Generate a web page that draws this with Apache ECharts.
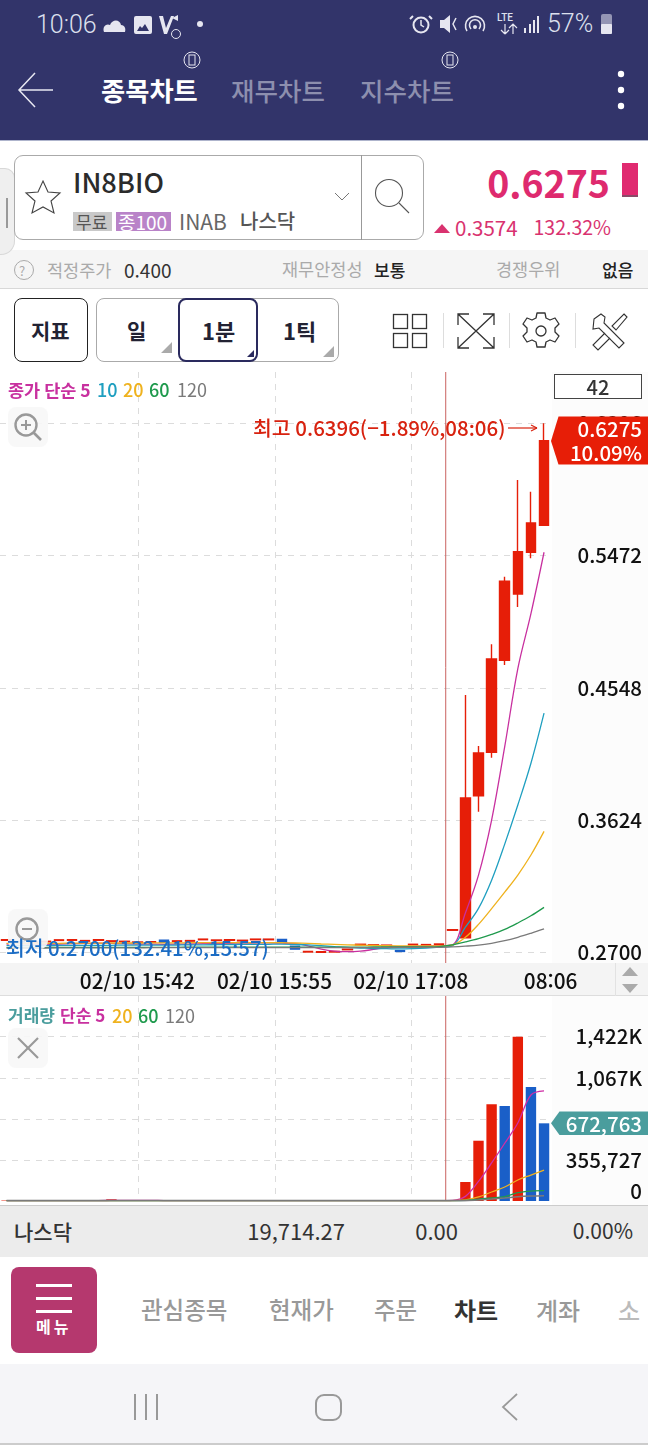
<!DOCTYPE html>
<html lang="ko"><head><meta charset="utf-8">
<script src="https://cdn.jsdelivr.net/npm/echarts@6/dist/echarts.min.js"></script>
<style>
html,body{margin:0;padding:0;width:648px;height:1445px;overflow:hidden;background:#fff;font-family:"Noto Sans CJK KR","Noto Sans",sans-serif}
#chrome,#chrome svg{position:absolute;left:0;top:0;width:648px;height:1445px}
#chrome span{position:absolute;white-space:nowrap;line-height:1;transform:translateY(-50%)}
#chrome .b{position:absolute;box-sizing:border-box}
#chart{position:absolute;left:0;top:370px;width:648px;height:835px}
</style></head><body>
<div id="chrome"></div>
<div id="chart"></div>
<script>
// ---- chart data ----
const barCount = '42';
const slots = ['1','2','3','4','5','6','7','8','9','10','11','12','13','14','15','16','17','18','19','20','21','22','23','24','25','26','27','28','29','30','31','32','33','34','35','36','37','38','39','40','41','42'];
const opens  = [.2784,.2776,.2768,.2773,.2783,.2784,.2778,.2784,.2776,.2773,.2768,.2770,.2785,.2776,.2778,.2788,.2782,.2784,.2780,.2788,.2788,.2790,.2742,.2702,.2700,.2702,.2718,.2752,.2748,.2746,.2712,.2752,.2750,.2754,.2854,.2802,.3794,.4097,.4740,.5203,.5495,.5683];
const closes = [.2788,.2772,.2772,.2777,.2787,.2788,.2782,.2788,.2780,.2777,.2772,.2774,.2770,.2780,.2782,.2792,.2786,.2788,.2784,.2792,.2792,.2770,.2722,.2706,.2704,.2706,.2722,.2756,.2752,.2750,.2706,.2756,.2754,.2758,.2858,.3778,.4092,.4749,.5292,.5499,.5699,.6275];
const lows   = [.2784,.2772,.2768,.2773,.2783,.2784,.2778,.2784,.2776,.2773,.2768,.2770,.2770,.2776,.2778,.2788,.2782,.2784,.2780,.2788,.2788,.2770,.2722,.2702,.2700,.2702,.2718,.2752,.2748,.2746,.2706,.2752,.2750,.2754,.2854,.2802,.3682,.4060,.4707,.5113,.5453,.5683];
const highs  = [.2788,.2776,.2772,.2777,.2787,.2788,.2782,.2788,.2780,.2777,.2772,.2774,.2785,.2780,.2782,.2792,.2786,.2788,.2784,.2792,.2792,.2790,.2742,.2706,.2704,.2706,.2722,.2756,.2752,.2750,.2712,.2756,.2754,.2758,.2858,.4498,.4141,.4852,.5324,.6000,.5918,.6396];
const priceMa5   = [.2758,.2760,.2758,.2756,.2758,.2760,.2762,.2764,.2762,.2760,.2758,.2757,.2756,.2757,.2758,.2760,.2762,.2763,.2764,.2765,.2766,.2764,.2760,.2745,.2722,.2708,.2704,.2708,.2720,.2733,.2738,.2742,.2744,.2746,.2752,.2975,.3239,.3624,.4137,.4682,.5066,.5495];
const priceMa10  = [.2746,.2746,.2747,.2747,.2748,.2748,.2748,.2749,.2749,.2750,.2750,.2750,.2750,.2751,.2752,.2752,.2753,.2754,.2755,.2755,.2756,.2757,.2755,.2752,.2746,.2740,.2734,.2730,.2726,.2725,.2724,.2726,.2730,.2736,.2745,.2875,.3007,.3204,.3456,.3729,.4021,.4371];
const priceMa20  = [.2762,.2762,.2763,.2763,.2763,.2764,.2764,.2764,.2765,.2765,.2765,.2766,.2766,.2766,.2767,.2767,.2767,.2768,.2768,.2768,.2768,.2767,.2765,.2762,.2758,.2755,.2752,.2750,.2748,.2746,.2745,.2745,.2744,.2744,.2751,.2805,.2895,.3005,.3120,.3240,.3380,.3545];
const priceMa60  = [.2733,.2733,.2733,.2733,.2734,.2734,.2734,.2734,.2734,.2735,.2735,.2735,.2735,.2735,.2736,.2736,.2736,.2736,.2736,.2736,.2736,.2736,.2736,.2736,.2736,.2736,.2736,.2736,.2737,.2737,.2737,.2737,.2738,.2740,.2752,.2772,.2795,.2825,.2860,.2905,.2955,.3014];
const priceMa120 = [.2730,.2730,.2730,.2730,.2731,.2731,.2731,.2731,.2731,.2731,.2731,.2732,.2732,.2732,.2732,.2732,.2732,.2732,.2732,.2733,.2733,.2733,.2733,.2733,.2733,.2733,.2733,.2733,.2733,.2733,.2734,.2734,.2734,.2735,.2738,.2743,.2750,.2763,.2781,.2805,.2833,.2863];
const volumes = [4000,3000,2500,3000,3500,3000,2500,4000,15000,4000,3000,2500,3000,2500,3000,2500,2000,2500,3000,2500,3000,3500,3000,2500,2000,2000,2500,2000,2500,2000,2500,2000,2000,2500,4000,164500,522000,837000,823000,1422000,987000,672763];
const volMa5   = [3000,3000,3000,3000,3000,3000,3000,3000,5500,6000,6000,6000,3500,3000,3000,3000,3000,3000,3000,3000,3000,3000,3000,3000,3000,2500,2500,2500,2500,2500,2500,2500,2500,2500,5000,40000,170000,330000,500000,675000,918000,953000];
const volMa20  = [3000,3000,3000,3000,3000,3000,3000,3000,3500,3500,3500,3500,3500,3500,3500,3500,3500,3500,3500,3500,3000,3000,3000,3000,3000,3000,3000,3000,3000,3000,3000,3000,3000,3000,3000,10000,35000,78000,121000,182000,225000,268000];
const volMa60  = [3000,3000,3000,3000,3000,3000,3000,3000,3000,3000,3000,3000,3000,3000,3000,3000,3000,3000,3000,3000,3000,3000,3000,3000,3000,3000,3000,3000,3000,3000,3000,3000,3000,3000,3000,5000,17000,26000,37000,72000,86000,89000];
const volMa120 = [3000,3000,3000,3000,3000,3000,3000,3000,3000,3000,3000,3000,3000,3000,3000,3000,3000,3000,3000,3000,3000,3000,3000,3000,3000,3000,3000,3000,3000,3000,3000,3000,3000,3000,3000,3000,9000,17000,26000,37000,43000,46000];
const priceTicks = [0.2700,0.3624,0.4548,0.5472,0.6396];
const volumeGridTicks = [355727,711454,1067181,1422908];
const volumeLabelTicks = [0,355727,1067181,1422908];
const dividerSlots = [10.06,20.48,30.87];
const timeSlots = [9.98,20.44,30.83,41.5];
const timeLabels = ['02/10 15:42','02/10 15:55','02/10 17:08','08:06'];
const sessionBreakSlot = 33.5;
const PRICE_MIN = 0.26252, PRICE_MAX = 0.67544, VOL_MAX = 1775400;
const RED='#e61e08', BLUE='#1a5fc8', MAG='#c8309f', CYAN='#1f9fc0', YEL='#efb21e', GRN='#1f9a4d', GRY='#7a7a7a', TEAL='#4a9d9d';
const FONT='"Noto Sans CJK KR","Noto Sans",sans-serif';

// ---- phone screen around the chart ----
const chrome=document.getElementById('chrome');
function box(x,y,w,h,css){const d=document.createElement('div');d.className='b';d.style.cssText=`left:${x}px;top:${y}px;width:${w}px;height:${h}px;`+(css||'');chrome.appendChild(d);}
function t(x,y,s,size,color,weight,right,fam,extra){const e=document.createElement('span');e.textContent=s;
 e.style.cssText=(right?`right:${648-x}px;`:`left:${x}px;`)+`top:${y}px;font-size:${size}px;color:${color};font-weight:${weight||400};`+(fam?`font-family:${fam};`:'')+(extra||'');chrome.appendChild(e);}
box(0,0,648,140,'background:#32346a');
box(0,140,648,1,'background:#aeb4cc');
box(0,250,648,38,'background:#f5f5f5');
box(0,288,648,1,'background:#d8d8d8');
box(0,370,648,835,'background:#fff');
box(552,372,96,591,'background:#fcfcfc');
box(552,996,96,209,'background:#fcfcfc');
box(0,963,648,33,'background:#f4f4f4;border-bottom:1px solid #ddd');
box(615,963,1,33,'background:#e2e2e2');
box(0,1205,648,52,'background:#ececec;border-top:1px solid #ccc');
box(0,1364,648,81,'background:#f5f5f8;border-bottom:2px solid #ccc');
box(0,168,15,87,'background:#efefef;border:1px solid #d8d8d8;border-left:0;border-radius:0 10px 14px 0');
box(6,198,1.5,30,'background:#999');
box(14,155,410,85,'background:#fff;border:1px solid #aaa;border-radius:9px');
box(361,155,1,85,'background:#999');
box(73,212,39,19,'background:#c9c9c9');
box(116,212,55,19,'background:#b983c8');
box(14,298,74,64,'border:1.6px solid #222;border-radius:8px');
box(96,298,243,64,'border:1px solid #aaa;border-radius:8px');
box(178,298,80,64,'border:2px solid #2a2a5e;border-radius:8px;background:#fff');
box(622,163,16,34,'background:#e02a70;border-bottom:2px solid #8a4a68');
box(554,374,88,25,'border:1px solid #444;background:#fff');
box(11,1267,86,86,'background:#b5386e;border-radius:8px');
box(36,1284,36,3,'background:#fff');box(36,1297,36,3,'background:#fff');box(36,1310,36,3,'background:#fff');
chrome.insertAdjacentHTML('beforeend',`<svg viewBox="0 0 648 1445" fill="none">
 <path d="M53 90H19M35 73L19 90L35 107" stroke="#e8e8f2" stroke-width="1.5"/>
 <circle cx="621" cy="74" r="3.2" fill="#fff"/><circle cx="621" cy="90" r="3.2" fill="#fff"/><circle cx="621" cy="106" r="3.2" fill="#fff"/>
 <g fill="#e6e6f0">
  <path d="M104 32c-2-6 3-9 6-7 2-6 10-6 11 0 4 0 5 4 4 7z"/>
  <path d="M134 18a2 2 0 0 1 2-2h14a2 2 0 0 1 2 2v14a2 2 0 0 1-2 2h-14a2 2 0 0 1-2-2zM137 31h12l-4-7-3 4-2-2z" fill-rule="evenodd"/>
  <path d="M159 16h4l3 12 5-12h3l-7 18h-3z"/><path d="M172 18l6-3v6z"/><circle cx="200" cy="24" r="3"/>
  <path d="M440 20h4l6-5v18l-6-5h-4z"/>
  <rect x="524" y="28" width="2" height="5"/><rect x="529" y="24" width="2" height="9"/><rect x="533" y="20" width="2" height="13"/><rect x="537" y="16" width="2" height="17"/>
  <rect x="601" y="14" width="11" height="20" rx="2" opacity=".55"/><rect x="601" y="24" width="11" height="10" rx="1"/></g>
 <g stroke="#e6e6f0" stroke-width="2"><circle cx="421" cy="25" r="7.500"/><path d="M421 20v5l3 2" stroke-width="1.500"/><path d="M413 16l-3 3M429 16l3 3"/><path d="M456 18l-3 6 3 6" stroke-width="1.500"/></g>
 <path d="M467 31a9.500 9.500 0 1 1 16 0M471 29a5.500 5.500 0 1 1 8 0" stroke="#e6e6f0" stroke-width="1.600"/><circle cx="475" cy="27" r="2" fill="#e6e6f0"/>
 <path d="M505 24v10M501 30l4 4M513 34v-10M509 28l4-4l4 4M505 34l4-4" stroke="#e6e6f0" stroke-width="1.200"/>
 <g stroke="#e6e6f0" stroke-width="1"><circle cx="192" cy="60" r="8"/><rect x="189" y="55" width="6" height="10"/><circle cx="450" cy="60" r="8"/><rect x="447" y="55" width="6" height="10"/><circle cx="176" cy="34" r="4.500"/></g>
 <path d="M43 181l5 11 12 1-9 8 3 12-11-6-11 6 3-12-9-8 12-1z" stroke="#444" stroke-width="1.1"/>
 <path d="M335 193l7 7 7-7" stroke="#777" stroke-width="1"/>
 <circle cx="389" cy="193" r="13.500" stroke="#555" stroke-width="1.1"/><path d="M399 203l10 10" stroke="#555" stroke-width="1.1"/>
 <path d="M434 233l8-9 8 9z" fill="#d9326f"/>
 <circle cx="24" cy="270" r="9.500" stroke="#aaa" stroke-width="1"/>
 <path d="M172 353l-11 0 11-11z M334 357l-11 0 11-11z" fill="#aaa"/><path d="M254 357l-7 0 7-7z" fill="#2a2a5e"/>
 <g stroke="#333" stroke-width="1.300"><rect x="393.500" y="314.500" width="14" height="14"/><rect x="412.500" y="314.500" width="14" height="14"/><rect x="393.500" y="333.500" width="14" height="14"/><rect x="412.500" y="333.500" width="14" height="14"/>
 <path d="M458 314l36 34M494 314l-36 34M458 325v-11h11M483 314h11v11M458 337v11h11M494 337v11h-11"/>
 <circle cx="541" cy="331" r="5"/><path d="M537 313h8l1 5 4 2 5-2 4 6-4 4v4l4 4-4 6-5-2-4 2-1 5h-8l-1-5-4-2-5 2-4-6 4-4v-4l-4-4 4-6 5 2 4-2z" stroke-linejoin="round"/>
 <path d="M594 319l7-5 4 3-1 6 20 20-5 5-20-20-6 1z" stroke-width="1.100"/><path d="M624 314l3 3-11 13-4-4zM605 333l-12 12 5 5 12-12" stroke-width="1.100"/></g>
 <g fill="#ddd"><rect x="443" y="313" width="1" height="35"/><rect x="509" y="313" width="1" height="35"/><rect x="575" y="313" width="1" height="35"/></g>
 <path d="M630 967l-8 9h16zM630 993l-8-9h16z" fill="#aaa"/>
 <g stroke="#999" stroke-width="2"><path d="M135 1394v26M146 1394v26M157 1394v26"/><rect x="316" y="1395" width="25" height="25" rx="8"/><path d="M517 1394l-14 13 14 13" stroke-width="1.800"/></g>
</svg>`);
const L='#dde0ee';
t(36,24,'10:06',25,L,300,0,'Roboto');
t(547,23,'57%',25,L,300,0,'Roboto');
t(497,18,'LTE',10,L,500,0,'Roboto');
t(101,90,'종목차트',26.3,'#fff',700);
t(231,90,'재무차트',25.5,'#8d8fae',500);
t(360,90,'지수차트',25.5,'#8d8fae',500);
t(73,182,'IN8BIO',27.2,'#2b2b2b',500);
t(76,221,'무료',17,'#555',400);
t(118,221,'종100',19,'#fff',400);
t(179,221,'INAB',21,'#666',400);
t(240,221,'나스닥',20,'#555',500);
t(610,182,'0.6275',37.5,'#de2a6e',600,1);
t(455,227,'0.3574',20.5,'#d9326f',400);
t(611,227,'132.32%',19.5,'#d9326f',400,1);
t(19,270,'?',13,'#aaa',400);
t(47,270,'적정주가',17.5,'#aaa',400);
t(124,269,'0.400',19,'#333',400);
t(282,269,'재무안정성',17.5,'#aaa',400);
t(374,269,'보통',17,'#222',500);
t(496,269,'경쟁우위',17.5,'#aaa',400);
t(602,269,'없음',17,'#222',500);
t(31,330,'지표',21,'#223',700);
t(127,330,'일',21,'#223',700);
t(202,330,'1분',22,'#223',700);
t(283,330,'1틱',22,'#223',700);
t(14,1231,'나스닥',21,'#333',500);
t(345,1230,'19,714.27',22,'#333',400,1);
t(458,1230,'0.00',22,'#333',400,1);
t(633,1230,'0.00%',21,'#333',400,1);
t(36,1326,'메뉴',16,'#fff',700,0,0,'letter-spacing:3px;');
t(141,1310,'관심종목',23.5,'#999',500);
t(269,1310,'현재가',23.5,'#999',500);
t(374,1310,'주문',23.5,'#999',500);
t(454,1310,'차트',24,'#333',700);
t(536,1310,'계좌',24,'#999',500);
t(618,1310,'소',24,'#bbb',500);

// ---- the chart itself ----
const chart=echarts.init(document.getElementById('chart'),null,{width:648,height:835});
const GRIDTOP0=2, GRIDH0=591, GRIDTOP1=626, GRIDH1=205;
function ma(name,data,color,width){return {name,type:'line',data,smooth:0.35,symbol:'none',silent:true,lineStyle:{color,width:width||1.3},z:3};}
const candleData=slots.map((_,i)=>[opens[i],closes[i],lows[i],highs[i]]);
const volData=volumes.map((v,i)=>({value:v,itemStyle:{color:(i>0&&v<volumes[i-1])?BLUE:RED}}));
function vax(g){return {type:'value',gridIndex:g,min:-0.5,max:41.5,position:'bottom',
  axisLine:{show:false},axisTick:{show:false,customValues:dividerSlots},
  splitLine:{show:true,lineStyle:{color:'#dcdcdc',type:[6,6],width:1}},
  axisLabel:g===0?{show:true,customValues:timeSlots,margin:8,fontFamily:FONT,fontSize:20.8,fontWeight:500,color:'#111',hideOverlap:false,showMinLabel:true,showMaxLabel:true,
    formatter:v=>timeLabels[timeSlots.indexOf(v)]||''}:{show:false}};}
const splitY={show:true,lineStyle:{color:'#dcdcdc',type:[6,6],width:1}};
const option={
 animation:false,backgroundColor:'transparent',
 grid:[{left:-3.8,width:554.4,top:GRIDTOP0,height:GRIDH0},{left:-3.8,width:554.4,top:GRIDTOP1,height:GRIDH1}],
 xAxis:[
  {type:'category',gridIndex:0,data:slots,show:false,boundaryGap:true},
  vax(0),
  {type:'category',gridIndex:1,data:slots,show:false,boundaryGap:true},
  vax(1)],
 yAxis:[
  {type:'value',gridIndex:0,position:'right',min:PRICE_MIN,max:PRICE_MAX,axisLine:{show:false},
   axisTick:{show:false,customValues:priceTicks},splitLine:splitY,
   axisLabel:{customValues:priceTicks,align:'right',margin:91.4,fontFamily:FONT,fontSize:20.5,fontWeight:500,color:'#111',formatter:v=>v.toFixed(4)}},
  {type:'value',gridIndex:1,position:'right',min:0,max:VOL_MAX,axisLine:{show:false},
   axisTick:{show:false,customValues:volumeGridTicks},splitLine:splitY,
   axisLabel:{customValues:volumeLabelTicks,align:'right',margin:91.4,fontFamily:FONT,fontSize:20.5,fontWeight:500,color:'#111',verticalAlignMinLabel:'bottom',
    formatter:v=>v>=1e6?Math.floor(v/1000).toLocaleString('en-US')+'K':v.toLocaleString('en-US')}}],
 series:[
  {name:'break',type:'line',xAxisIndex:1,yAxisIndex:0,symbol:'none',silent:true,lineStyle:{color:'#c9625f',width:1},data:[[sessionBreakSlot,PRICE_MIN],[sessionBreakSlot,PRICE_MAX]],z:1},
  {name:'break2',type:'line',xAxisIndex:3,yAxisIndex:1,symbol:'none',silent:true,lineStyle:{color:'#c9625f',width:1},data:[[sessionBreakSlot,0],[sessionBreakSlot,VOL_MAX]],z:1},
  {name:'가격',type:'candlestick',xAxisIndex:0,yAxisIndex:0,data:candleData,barWidth:10,z:2,
   itemStyle:{color:RED,color0:BLUE,borderColor:RED,borderColor0:BLUE,borderWidth:1.4}},
  Object.assign(ma('5',priceMa5,MAG),{xAxisIndex:0,yAxisIndex:0}),
  Object.assign(ma('10',priceMa10,CYAN),{xAxisIndex:0,yAxisIndex:0}),
  Object.assign(ma('20',priceMa20,YEL),{xAxisIndex:0,yAxisIndex:0}),
  Object.assign(ma('60',priceMa60,GRN),{xAxisIndex:0,yAxisIndex:0}),
  Object.assign(ma('120',priceMa120,GRY),{xAxisIndex:0,yAxisIndex:0}),
  {name:'거래량',type:'bar',xAxisIndex:2,yAxisIndex:1,data:volData,barWidth:10.4,z:2},
  Object.assign(ma('v5',volMa5,'#d02ea6'),{xAxisIndex:2,yAxisIndex:1}),
  Object.assign(ma('v20',volMa20,YEL),{xAxisIndex:2,yAxisIndex:1}),
  Object.assign(ma('v60',volMa60,GRN),{xAxisIndex:2,yAxisIndex:1}),
  Object.assign(ma('v120',volMa120,GRY,1.6),{xAxisIndex:2,yAxisIndex:1})
 ],
 graphic:{elements:[]}
};
// overlay elements; y values are page y, the canvas starts at 370
const Y=y=>y-370;
function gt(x,y,text,size,fill,weight,align){return {type:'text',z:100,style:{x,y:Y(y),text,fill,textAlign:align||'left',textVerticalAlign:'middle',font:`${weight||500} ${size}px ${FONT}`}};}
function poly(points,fill){return {type:'polygon',z:99,shape:{points:points.map(p=>[p[0],Y(p[1])])},style:{fill}};}
function btn(y){return {type:'rect',z:98,shape:{x:8,y:Y(y),width:40,height:40,r:8},style:{fill:'#f7f7f7',opacity:.9}};}
function ln(x1,y1,x2,y2,stroke,w){return {type:'line',z:100,shape:{x1,y1:Y(y1),x2,y2:Y(y2)},style:{stroke,lineWidth:w||1.2}};}
function circ(cx,cy,r,w){return {type:'circle',z:100,shape:{cx,cy:Y(cy),r},style:{fill:'transparent',stroke:'#999',lineWidth:w||2.4}};}
option.graphic.elements=[
 gt(598,387,barCount,20,'#333',500,'center'),
 gt(8,390,'종가 단순 5',17.5,MAG,600),gt(97,390,'10',18,CYAN),gt(123,390,'20',18,YEL),gt(149,390,'60',18,GRN),gt(177,390,'120',18,GRY,400),
 btn(407),circ(26,425,10.5),ln(33.5,432.5,41,440,'#999',2.6),ln(21,425,31,425,'#999',2),ln(26,420,26,430,'#999',2),
 btn(909),circ(27,929,10.5),ln(22,929,32,929,'#999',2),
 gt(253,428,'최고 0.6396(−1.89%,08:06)',20.5,'#d8220f'),
 ln(508,428,537,428,'#d8220f',1.2),ln(531,425,537,428,'#d8220f',1.2),ln(531,431,537,428,'#d8220f',1.2),
 poly([[551,441],[558.5,416.5],[648,416.5],[648,464.5],[558.5,464.5]],'#e71e07'),
 gt(642,429,'0.6275',20.5,'#fff',500,'right'),gt(642,453,'10.09%',20.5,'#fff',500,'right'),
 gt(6,948,'최저 0.2700(132.41%,15:57)',20.4,'#1b6cc4'),
 gt(8,1016,'거래량',17,TEAL,600),gt(60,1016,'단순 5',17,MAG,600),gt(112,1016,'20',18,YEL),gt(138,1016,'60',18,GRN),gt(165,1016,'120',18,GRY,400),
 btn(1028),ln(18,1038,38,1058,'#999',2.2),ln(38,1038,18,1058,'#999',2.2),
 poly([[551,1123.3],[559.5,1111.5],[648,1111.5],[648,1135],[559.5,1135]],TEAL),
 gt(642,1124,'672,763',20.5,'#fff',500,'right')
];
chart.setOption(option);
</script>
</body></html>
